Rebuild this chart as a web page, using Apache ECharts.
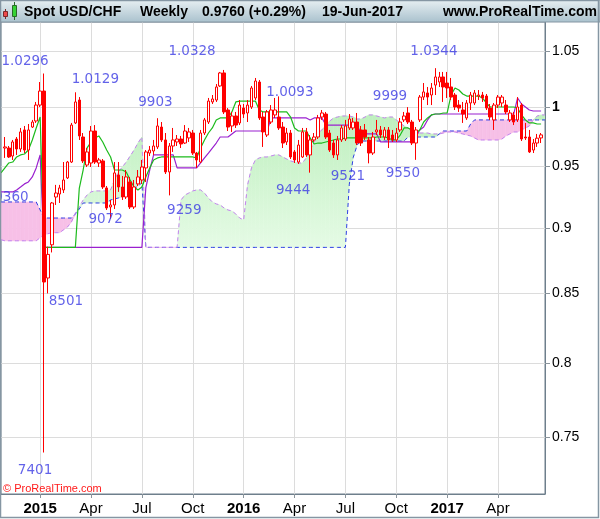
<!DOCTYPE html>
<html><head><meta charset="utf-8">
<script src="https://cdn.jsdelivr.net/npm/echarts@6/dist/echarts.min.js"></script>
<style>html,body{margin:0;padding:0;background:#fff}#c{width:600px;height:519px}</style>
</head><body><div id="c"></div>
<script>
// ---------- DATA ----------
// weekly categories (Mondays) 27-Oct-2014 .. 26-Jun-2017
const categories = [];
(function(){ const d0 = Date.UTC(2014, 9, 27); for (let k = 0; k < 140; k++) categories.push(new Date(d0 + k * 604800000).toISOString().slice(0, 10)); })();

const firstCandle = '2014-11-03';
const opens = [0.9649,0.9649,0.9582,0.9725,0.9641,0.9802,0.9632,0.9827,0.9879,1.0017,
1.0140,0.8616,0.8869,0.9246,0.9270,0.9303,0.9401,0.9532,0.9862,1.0061,
0.9742,0.9507,0.9524,0.9793,0.9524,0.9541,0.9319,0.9166,0.9182,0.9425,
0.9327,0.9246,0.9368,0.9166,0.9352,0.9384,0.9483,0.9607,0.9624,0.9658,
0.9827,0.9717,0.9450,0.9666,0.9700,0.9725,0.9691,0.9734,0.9776,0.9607,
0.9532,0.9776,0.9870,1.0044,1.0061,1.0185,1.0301,0.9974,0.9836,0.9922,
0.9862,0.9991,0.9948,1.0000,1.0079,1.0220,0.9913,0.9759,0.9870,0.9931,
0.9913,0.9827,0.9700,0.9776,0.9616,0.9532,0.9574,0.9785,0.9591,0.9717,
0.9742,0.9913,0.9939,0.9776,0.9691,0.9591,0.9717,0.9725,0.9819,0.9819,
0.9870,0.9802,0.9802,0.9717,0.9607,0.9785,0.9802,0.9742,0.9802,0.9759,
0.9717,0.9802,0.9888,0.9948,0.9870,0.9691,0.9888,1.0087,1.0123,1.0105,
1.0193,1.0220,1.0265,1.0211,1.0176,1.0105,1.0017,0.9974,0.9905,1.0035,
1.0035,1.0096,1.0105,1.0096,0.9991,0.9888,1.0017,1.0035,1.0017,0.9888,
0.9931,0.9888,1.0017,0.9742,0.9742,0.9632,0.9691,0.9734];
const highs = [0.9742,0.9666,0.9717,0.9742,0.9819,0.9836,0.9853,0.9888,1.0044,1.0220,
1.0296,0.8854,0.9206,0.9344,0.9344,0.9532,0.9541,0.9862,1.0129,1.0087,
0.9776,0.9649,0.9836,0.9844,0.9566,0.9557,0.9335,0.9222,0.9532,0.9532,
0.9417,0.9466,0.9409,0.9384,0.9466,0.9549,0.9632,0.9666,0.9717,0.9903,
0.9870,0.9776,0.9691,0.9819,0.9759,0.9751,0.9844,0.9819,0.9802,0.9616,
0.9802,0.9905,1.0079,1.0105,1.0202,1.0310,1.0328,0.9991,0.9957,0.9957,
1.0061,1.0026,1.0061,1.0185,1.0256,1.0238,0.9957,0.9974,1.0017,1.0079,
1.0093,0.9870,0.9819,0.9802,0.9632,0.9717,0.9819,0.9819,0.9759,0.9776,
0.9931,0.9974,0.9957,0.9802,0.9717,0.9751,0.9844,0.9888,0.9939,0.9905,
0.9948,0.9836,0.9853,0.9742,0.9785,0.9888,0.9836,0.9827,0.9827,0.9802,
0.9819,0.9905,0.9957,0.9999,0.9888,0.9827,1.0105,1.0211,1.0176,1.0211,
1.0344,1.0310,1.0310,1.0310,1.0256,1.0123,1.0061,1.0044,1.0061,1.0132,
1.0149,1.0149,1.0132,1.0114,1.0026,1.0035,1.0105,1.0105,1.0061,0.9974,
0.9957,1.0087,1.0035,0.9862,0.9802,0.9725,0.9768,0.9776];
const lows = [0.9566,0.9566,0.9549,0.9591,0.9616,0.9607,0.9549,0.9819,0.9862,1.0000,
0.7401,0.8501,0.8810,0.9182,0.9198,0.9278,0.9392,0.9524,0.9853,0.9717,
0.9524,0.9491,0.9491,0.9516,0.9491,0.9311,0.9142,0.9072,0.9150,0.9287,
0.9222,0.9230,0.9150,0.9150,0.9335,0.9352,0.9368,0.9582,0.9591,0.9641,
0.9700,0.9433,0.9259,0.9616,0.9666,0.9649,0.9683,0.9700,0.9591,0.9483,
0.9524,0.9759,0.9853,1.0026,1.0044,1.0176,0.9939,0.9793,0.9785,0.9819,
0.9844,0.9905,0.9870,0.9983,1.0061,0.9888,0.9658,0.9742,0.9853,0.9905,
0.9802,0.9649,0.9674,0.9557,0.9524,0.9516,0.9566,0.9574,0.9444,0.9700,
0.9725,0.9888,0.9725,0.9616,0.9566,0.9549,0.9700,0.9708,0.9802,0.9802,
0.9674,0.9666,0.9717,0.9521,0.9591,0.9759,0.9734,0.9717,0.9649,0.9700,
0.9700,0.9785,0.9870,0.9853,0.9674,0.9550,0.9870,1.0061,1.0017,1.0017,
1.0105,1.0176,1.0044,1.0079,1.0061,0.9974,0.9957,0.9862,0.9888,0.9974,
1.0017,1.0061,1.0044,0.9974,0.9888,0.9802,0.9991,1.0000,0.9939,0.9870,
0.9844,0.9870,0.9708,0.9717,0.9607,0.9607,0.9658,0.9691];
const closes = [0.9658,0.9574,0.9700,0.9641,0.9785,0.9632,0.9802,0.9870,1.0017,1.0140,
0.8586,0.8795,0.9198,0.9278,0.9319,0.9384,0.9532,0.9844,1.0044,0.9751,
0.9541,0.9616,0.9793,0.9532,0.9549,0.9327,0.9158,0.9182,0.9442,0.9327,
0.9246,0.9409,0.9166,0.9327,0.9409,0.9491,0.9616,0.9632,0.9666,0.9836,
0.9717,0.9450,0.9666,0.9717,0.9725,0.9683,0.9793,0.9785,0.9607,0.9549,
0.9776,0.9888,1.0052,1.0070,1.0176,1.0301,0.9957,0.9827,0.9922,0.9844,
1.0017,0.9939,1.0017,1.0167,1.0229,0.9905,0.9785,0.9957,0.9974,0.9974,
0.9819,0.9691,0.9776,0.9574,0.9549,0.9674,0.9785,0.9591,0.9717,0.9742,
0.9905,0.9948,0.9742,0.9632,0.9591,0.9717,0.9819,0.9836,0.9896,0.9870,
0.9691,0.9691,0.9742,0.9607,0.9742,0.9802,0.9759,0.9802,0.9717,0.9717,
0.9776,0.9870,0.9922,0.9870,0.9691,0.9802,1.0087,1.0132,1.0087,1.0167,
1.0265,1.0265,1.0176,1.0167,1.0087,1.0000,0.9991,0.9939,1.0035,1.0105,
1.0123,1.0105,1.0079,0.9991,0.9913,1.0017,1.0087,1.0087,0.9957,0.9948,
0.9870,1.0000,0.9725,0.9734,0.9616,0.9691,0.9732,0.9760];

// Ichimoku lines, one reading per week (27-Oct-2014 ..)
const tenkan = [0.9442,0.9483,0.9524,0.9532,0.9574,0.9591,0.9599,0.9632,0.9717,0.9819,
0.9913,0.8849,0.8849,0.8849,0.8849,0.8849,0.8849,0.8849,0.8849,0.8849,
0.9315,0.9468,0.9650,0.9700,0.9734,0.9751,0.9700,0.9632,0.9574,0.9466,
0.9466,0.9466,0.9450,0.9384,0.9327,0.9303,0.9327,0.9409,0.9483,0.9549,
0.9566,0.9574,0.9574,0.9574,0.9574,0.9574,0.9574,0.9574,0.9574,0.9574,
0.9566,0.9649,0.9717,0.9776,0.9819,0.9888,0.9905,0.9905,0.9905,0.9957,
1.0044,1.0052,1.0052,1.0052,1.0052,1.0052,0.9974,0.9957,0.9957,0.9957,
0.9957,0.9957,0.9957,0.9957,0.9913,0.9819,0.9793,0.9793,0.9793,0.9734,
0.9683,0.9691,0.9691,0.9700,0.9708,0.9717,0.9725,0.9725,0.9734,0.9734,
0.9734,0.9734,0.9734,0.9734,0.9734,0.9734,0.9742,0.9742,0.9742,0.9734,
0.9717,0.9717,0.9759,0.9819,0.9819,0.9802,0.9776,0.9802,0.9870,0.9905,
0.9931,0.9939,0.9939,0.9948,0.9948,1.0105,1.0167,1.0149,1.0114,1.0096,
1.0096,1.0096,1.0096,1.0079,1.0035,1.0000,1.0000,1.0000,1.0000,1.0000,
1.0000,1.0000,0.9991,0.9931,0.9888,0.9862,0.9862,0.9853,0.9853,null];
const kijun = [0.9287,0.9287,0.9287,0.9287,0.9303,0.9327,0.9352,0.9368,0.9409,0.9483,
0.9591,0.8849,0.8849,0.8849,0.8849,0.8849,0.8849,0.8849,0.8849,0.8849,
0.8849,0.8849,0.8849,0.8849,0.8849,0.8849,0.8849,0.8849,0.8849,0.8849,
0.8849,0.8849,0.8849,0.8849,0.8849,0.8849,0.8849,0.9319,0.9466,0.9591,
0.9591,0.9591,0.9591,0.9591,0.9591,0.9483,0.9483,0.9483,0.9483,0.9483,
0.9483,0.9524,0.9566,0.9607,0.9649,0.9691,0.9742,0.9742,0.9742,0.9768,
0.9793,0.9793,0.9793,0.9793,0.9793,0.9793,0.9793,0.9793,0.9793,0.9905,
0.9905,0.9905,0.9905,0.9905,0.9905,0.9905,0.9905,0.9905,0.9905,0.9888,
0.9905,0.9905,0.9905,0.9844,0.9844,0.9844,0.9844,0.9844,0.9844,0.9844,
0.9844,0.9844,0.9768,0.9768,0.9768,0.9768,0.9768,0.9700,0.9700,0.9700,
0.9700,0.9700,0.9700,0.9700,0.9700,0.9700,0.9742,0.9802,0.9827,0.9888,
0.9931,0.9939,0.9939,0.9939,0.9939,0.9939,0.9939,0.9939,0.9939,0.9939,
0.9939,0.9939,0.9939,0.9939,0.9939,0.9939,0.9939,0.9939,0.9939,0.9939,
0.9939,0.9939,1.0079,1.0026,1.0000,0.9974,0.9965,0.9965,0.9965,null];
const senkouA = [0.8908,0.8900,0.8900,0.8900,0.8900,0.8900,0.8900,0.8900,0.8900,0.8900,
0.8924,0.8947,0.8955,0.8963,0.8963,0.8963,0.8986,0.9008,0.9047,0.9118,
0.9166,0.9222,0.9262,0.9287,0.9295,0.9295,0.9295,0.9295,0.9303,0.9384,
0.9450,0.9491,0.9532,0.9582,0.9632,0.9691,0.9742,0.8849,0.8849,0.8849,
0.8849,0.8849,0.8849,0.8849,0.8849,0.8849,0.9222,0.9262,0.9278,0.9295,
0.9303,0.9303,0.9278,0.9238,0.9206,0.9190,0.9182,0.9158,0.9142,0.9134,
0.9110,0.9078,0.9063,0.9344,0.9483,0.9549,0.9566,0.9574,0.9574,0.9582,
0.9591,0.9591,0.9574,0.9557,0.9541,0.9532,0.9524,0.9524,0.9566,0.9632,
0.9700,0.9776,0.9802,0.9844,0.9879,0.9905,0.9913,0.9922,0.9922,0.9922,
0.9913,0.9896,0.9896,0.9913,0.9931,0.9931,0.9922,0.9913,0.9905,0.9913,
0.9913,0.9888,0.9862,0.9836,0.9819,0.9793,0.9785,0.9776,0.9776,0.9776,
0.9768,0.9768,0.9768,0.9776,0.9785,0.9785,0.9785,0.9776,0.9768,0.9759,
0.9751,0.9734,0.9717,0.9717,0.9717,0.9717,0.9717,0.9717,0.9725,0.9751,
0.9768,0.9785,0.9785,0.9802,0.9819,0.9836,0.9888,0.9922,0.9931,0.9931];
const senkouB = [0.9206,0.9206,0.9206,0.9206,0.9206,0.9206,0.9206,0.9206,0.9206,0.9206,
0.9142,0.9078,0.9078,0.9078,0.9078,0.9078,0.9078,0.9078,0.9078,0.9110,
0.9150,0.9198,0.9198,0.9198,0.9198,0.9198,0.9198,0.9198,0.9222,0.9230,
0.9238,0.9246,0.9262,0.9287,0.9311,0.9335,0.9360,0.8849,0.8849,0.8849,
0.8849,0.8849,0.8849,0.8849,0.8849,0.8849,0.8849,0.8849,0.8849,0.8849,
0.8849,0.8849,0.8849,0.8849,0.8849,0.8849,0.8849,0.8849,0.8849,0.8849,
0.8849,0.8849,0.8849,0.8849,0.8849,0.8849,0.8849,0.8849,0.8849,0.8849,
0.8849,0.8849,0.8849,0.8849,0.8849,0.8849,0.8849,0.8849,0.8849,0.8849,
0.8849,0.8849,0.8849,0.8849,0.8849,0.8849,0.8849,0.8849,0.8849,0.9350,
0.9570,0.9674,0.9708,0.9708,0.9708,0.9708,0.9708,0.9708,0.9708,0.9708,
0.9708,0.9708,0.9708,0.9708,0.9742,0.9742,0.9742,0.9742,0.9742,0.9742,
0.9742,0.9742,0.9768,0.9793,0.9793,0.9793,0.9793,0.9793,0.9793,0.9793,
0.9853,0.9888,0.9888,0.9888,0.9888,0.9888,0.9888,0.9888,0.9888,0.9888,
0.9888,0.9888,0.9888,0.9888,0.9888,0.9888,0.9888,0.9888,0.9888,0.9888];

// high / low annotations
const annotDates  = ['2015-01-12','2015-03-09','2015-08-10','2015-11-30','2015-05-11','2015-08-24','2015-01-19','2015-01-12','2014-11-03','2016-03-07','2016-05-02','2016-08-15','2016-10-24','2016-11-07','2016-12-12'];
const annotValues = [1.0296,1.0129,0.9903,1.0328,0.9072,0.9259,0.8501,0.7401,0.9360,1.0093,0.9444,0.9521,0.9999,0.9550,1.0344];
const annotTexts  = ['1.0296','1.0129','9903','1.0328','9072','9259','8501','7401','9360','1.0093','9444','9521','9999','9550','1.0344'];
const yTicks = [0.75, 0.8, 0.85, 0.9, 0.95, 1, 1.05];
const axisMinPrice = 0.71383, axisMaxPrice = 1.07685;

// ---------- STYLE (label offsets, px) ----------
const annotOffsets = [[-19,-12],[20,-13],[-6,-16],[-32,-18],[-5,1],[15,15],[18,8],[-9,18],[6.5,15],[11,-4],[-17,18],[-21,13],[-18,-11],[-13,14],[-1.5,-17]];

const L = Math.log;
const ci = d => categories.indexOf(d);
const c0 = ci(firstCandle);
const candleData = opens.map((o, k) => [c0 + k, L(o), L(closes[k]), L(lows[k]), L(highs[k])]);
const lineData = arr => arr.map((v, i) => v == null ? null : [i, L(v)]).filter(Boolean);
const cloudData = [];
for (let i = 0; i + 1 < senkouA.length; i++) cloudData.push([i, L(senkouA[i]), L(senkouB[i]), L(senkouA[i+1]), L(senkouB[i+1])]);

const greenFill = {type:'linear', x:0, y:112, x2:0, y2:250, global:true, colorStops:[{offset:0,color:'#bdefbd'},{offset:1,color:'#e6fbe6'}]};
const pinkFill = '#f7c0e7';

function cloudItem(params, api) {
  const i = api.value(0), a0 = api.value(1), b0 = api.value(2), a1 = api.value(3), b1 = api.value(4);
  const d0 = a0 - b0, d1 = a1 - b1;
  const P = (x, v) => api.coord([x, v]);
  const polys = [];
  if (d0 * d1 < 0) {
    const t = d0 / (d0 - d1), xc = i + t, vc = a0 + (a1 - a0) * t;
    polys.push([[P(i,a0), P(xc,vc), P(i,b0)], d0 > 0]);
    polys.push([[P(xc,vc), P(i+1,a1), P(i+1,b1)], d1 > 0]);
  } else {
    polys.push([[P(i,a0), P(i+1,a1), P(i+1,b1), P(i,b0)], (d0 + d1) > 0]);
  }
  return {type:'group', children: polys.map(([pts, up]) => ({
    type:'polygon', shape:{points:pts},
    style:{fill: up ? greenFill : pinkFill, stroke: up ? greenFill : pinkFill, lineWidth: 0.6}
  }))};
}

const isQ = (idx) => {
  const d = categories[idx]; if (!d) return false;
  const m = +d.slice(5,7), day = +d.slice(8,10);
  return (m === 1 || m === 4 || m === 7 || m === 10) && day <= 7;
};
const monthName = {4:'Apr', 7:'Jul', 10:'Oct'};
const FONT = 'Liberation Sans, Arial, sans-serif';

const chart = echarts.init(document.getElementById('c'), null, {renderer:'canvas'});
chart.setOption({
  animation: false,
  backgroundColor: '#ffffff',
  grid: {left: 1, right: 55, top: 22, bottom: 25, show: true, borderColor: '#6e7f8c', borderWidth: 1, backgroundColor: '#ffffff'},
  xAxis: {
    type: 'category', data: categories, boundaryGap: false,
    axisLine: {show: true, onZero: false, lineStyle: {color: '#6e7f8c'}},
    axisTick: {show: true, interval: isQ, length: 4, lineStyle: {color: '#8a949c'}},
    axisLabel: {
      interval: isQ, margin: 7,
      color: '#000', fontSize: 15, fontFamily: FONT,
      formatter: (val) => { const m = +val.slice(5,7); return m === 1 ? '{y|' + val.slice(0,4) + '}' : monthName[m]; },
      rich: {y: {fontWeight: 'bold', fontSize: 15, fontFamily: FONT, color: '#000'}}
    },
    splitLine: {show: true, interval: isQ, lineStyle: {color: '#dcdcdc', width: 1}}
  },
  yAxis: {
    type: 'value', position: 'right', min: L(axisMinPrice), max: L(axisMaxPrice),
    axisLine: {show: true, lineStyle: {color: '#6e7f8c'}},
    axisTick: {show: true, length: 5, customValues: yTicks.map(L), lineStyle: {color: '#8a949c'}},
    axisLabel: {
      customValues: yTicks.map(L), margin: 7, color: '#000', fontSize: 14, fontFamily: FONT,
      formatter: (v) => { const p = Math.exp(v); const k = yTicks.find(t => Math.abs(t - p) < 1e-6); if (k === undefined) return ''; return k === 1 ? '{b|1}' : String(k); },
      rich: {b: {fontWeight: 'bold', fontSize: 14, fontFamily: FONT, color: '#000'}}
    },
    splitLine: {show: true, lineStyle: {color: '#dcdcdc', width: 1}}
  },
  series: [
    {type: 'custom', renderItem: cloudItem, data: cloudData, silent: true, clip: true, z: 1,
     encode: {x: 0, y: [1,2,3,4]}},
    {type: 'line', data: lineData(senkouB), showSymbol: false, silent: true, z: 2,
     lineStyle: {color: '#2f3fe6', width: 1, type: [4, 3]}},
    {type: 'line', data: lineData(senkouA), showSymbol: false, silent: true, z: 2,
     lineStyle: {color: '#c383ef', width: 1, type: [4, 3]}},
    {type: 'line', data: lineData(kijun), showSymbol: false, silent: true, z: 3,
     lineStyle: {color: '#9a20cf', width: 1.2}},
    {type: 'line', data: lineData(tenkan), showSymbol: false, silent: true, z: 3,
     lineStyle: {color: '#1cbb1c', width: 1.2}},
    {type: 'candlestick', data: candleData, encode: {x: 0, y: [1,2,3,4]}, barWidth: 3, silent: true, z: 4,
     itemStyle: {color: '#ffffff', color0: '#ff0000', borderColor: '#ff0000', borderColor0: '#ff0000', borderWidth: 1}},
    {type: 'scatter', symbolSize: 1, silent: true, clip: false, z: 6, itemStyle: {color: 'rgba(0,0,0,0)'},
     data: annotTexts.map((t, k) => ({
       value: [ci(annotDates[k]), L(annotValues[k])],
       label: {show: true, position: 'inside', offset: annotOffsets[k], formatter: t, color: '#3b3be4',
               fontSize: 13.5, fontFamily: 'DejaVu Sans, sans-serif'}
     }))}
  ],
  graphic: [
    {type: 'rect', z: 100, shape: {x: 0, y: 0, width: 600, height: 22},
     style: {fill: {type:'linear', x:0, y:0, x2:0, y2:1, colorStops:[{offset:0,color:'#e8f0f3'},{offset:1,color:'#a9c1cd'}]}, stroke: '#8596a3', lineWidth: 1}},
    {type: 'rect', z: 101, shape: {x: 12.5, y: 5.5, width: 4, height: 11}, style: {fill: '#35d335', stroke: '#2a6a2a', lineWidth: 1}},
    {type: 'line', z: 100, shape: {x1: 14.5, y1: 2, x2: 14.5, y2: 20}, style: {stroke: '#2a6a2a', lineWidth: 1}},
    {type: 'rect', z: 101, shape: {x: 3.5, y: 11.5, width: 4, height: 5}, style: {fill: '#ee4a4a', stroke: '#7a2a2a', lineWidth: 1}},
    {type: 'line', z: 100, shape: {x1: 5.5, y1: 9, x2: 5.5, y2: 19}, style: {stroke: '#7a2a2a', lineWidth: 1}},
    {type: 'text', z: 102, x: 24, y: 12, style: {text: 'Spot USD/CHF', font: 'bold 14px ' + FONT, fill: '#000', textVerticalAlign: 'middle'}},
    {type: 'text', z: 102, x: 140, y: 12, style: {text: 'Weekly', font: 'bold 14px ' + FONT, fill: '#000', textVerticalAlign: 'middle'}},
    {type: 'text', z: 102, x: 202, y: 12, style: {text: '0.9760 (+0.29%)', font: 'bold 14px ' + FONT, fill: '#000', textVerticalAlign: 'middle'}},
    {type: 'text', z: 102, x: 322, y: 12, style: {text: '19-Jun-2017', font: 'bold 14px ' + FONT, fill: '#000', textVerticalAlign: 'middle'}},
    {type: 'text', z: 102, x: 597, y: 12, style: {text: 'www.ProRealTime.com', font: 'bold 14px ' + FONT, fill: '#000', textAlign: 'right', textVerticalAlign: 'middle'}},
    {type: 'text', z: 102, x: 3, y: 489, style: {text: '© ProRealTime.com', font: '11px ' + FONT, fill: '#ff1a1a', textVerticalAlign: 'middle'}},
    {type: 'rect', z: 103, shape: {x: 0.5, y: 0.5, width: 598, height: 517}, style: {fill: 'none', stroke: '#8596a3', lineWidth: 1.5}}
  ]
});
</script>
</body></html>
